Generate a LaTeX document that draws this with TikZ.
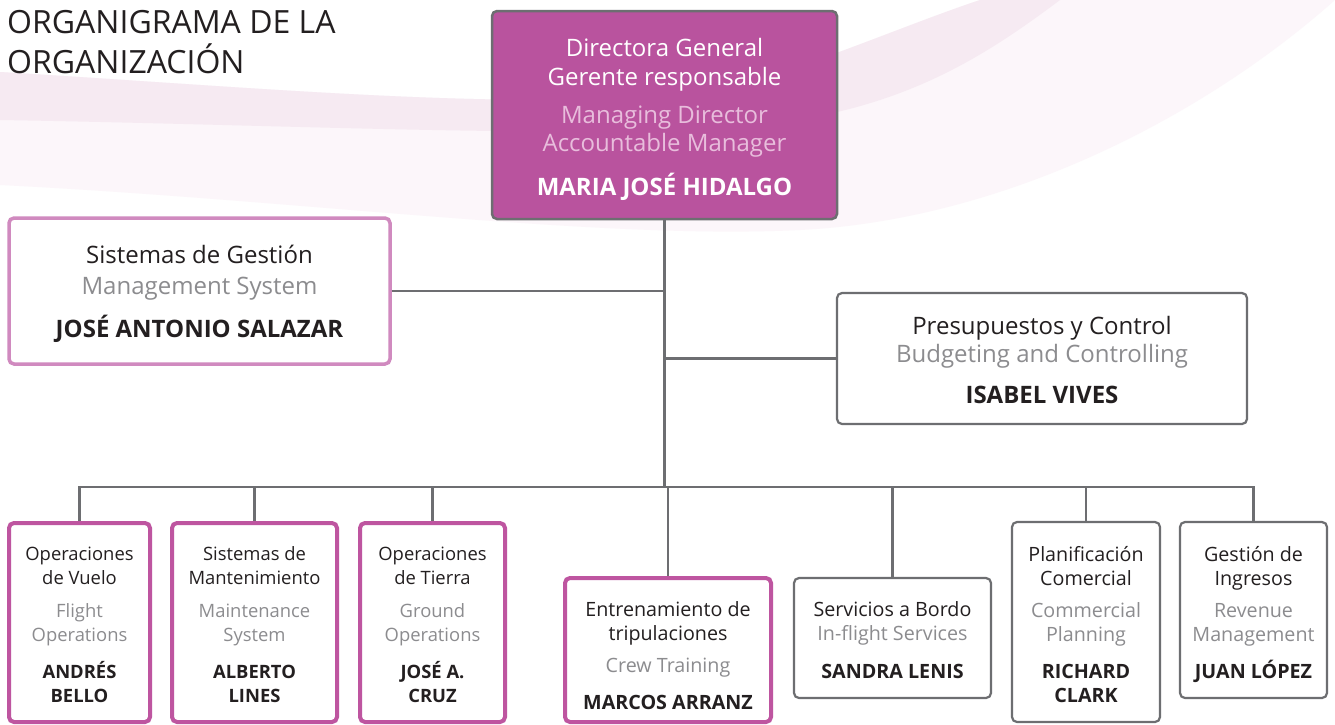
\documentclass[tikz,border=0pt]{standalone}
\usepackage{fontspec}
\setmainfont{Open Sans}
\definecolor{mag}{HTML}{B9539E}
\definecolor{grayb}{HTML}{6D6E71}
\definecolor{pinkb}{HTML}{BE55A0}
\definecolor{pinkl}{HTML}{D08ABF}
\definecolor{subm}{HTML}{E8BDDC}
\definecolor{subg}{HTML}{8C8C8F}
\definecolor{dark}{HTML}{231F20}
\definecolor{bgA}{HTML}{FCF6FA}
\definecolor{bgB}{HTML}{F6EAF2}
\tikzset{
  box/.style={rectangle, rounded corners=5pt, inner sep=0pt},
  pinkbox/.style={box, draw=pinkb, line width=4pt, fill=white},
  lpinkbox/.style={box, draw=pinkl, line width=3.5pt, fill=white},
  graybox/.style={box, draw=grayb, line width=2.2pt, fill=white},
  topbox/.style={box, draw=grayb, line width=2.5pt, fill=mag},
  txt/.style={align=center, inner sep=0pt, text=dark},
  conn/.style={draw=grayb, line width=2.5pt},
  bigA/.style={font=\fontsize{24}{28.5}\selectfont},
  bigB/.style={font=\fontsize{24}{31}\selectfont},
  smallA/.style={font=\fontsize{18.4}{24}\selectfont},
  smallB/.style={font=\fontsize{19.7}{24}\selectfont},
}
\newcommand{\sg}[1]{{\color{subg}#1}}
\newcommand{\sm}[1]{{\color{subm}#1}}
\newcommand{\nm}[1]{{\bfseries #1}}
\begin{document}
\begin{tikzpicture}[x=1pt,y=-1pt]
\useasboundingbox (0,0) rectangle (1335,724);
\clip (0,0) rectangle (1335,724);
\fill[white] (0,0) rectangle (1335,724);
% background swoosh
\fill[bgA] (0,72) .. controls (300,90) and (600,120) .. (760,80)
  .. controls (850,50) and (920,20) .. (980,0) -- (1335,0)
  .. controls (1200,120) and (1000,220) .. (800,230)
  .. controls (600,240) and (300,200) .. (0,185) -- cycle;
\fill[bgB] (0,72) .. controls (300,90) and (600,120) .. (760,80)
  .. controls (850,50) and (920,20) .. (980,0) -- (1060,0)
  .. controls (980,60) and (900,110) .. (760,125)
  .. controls (600,140) and (300,125) .. (0,120) -- cycle;
% title
\node[anchor=north west, inner sep=0pt, align=left, text=dark,
  font=\fontsize{32}{40}\selectfont] (title) at (7,10) {ORGANIGRAMA DE LA\\ORGANIZACIÓN};
% boxes
\node[topbox, minimum width=345, minimum height=208] (top) at (664.5,115) {};
\node[lpinkbox, minimum width=381, minimum height=146] (sis) at (199.5,291) {};
\node[graybox, minimum width=410, minimum height=131] (pres) at (1042,358.5) {};
\node[pinkbox, minimum width=141, minimum height=199] (b1) at (79.5,622.5) {};
\node[pinkbox, minimum width=165, minimum height=199] (b2) at (254.5,622.5) {};
\node[pinkbox, minimum width=145, minimum height=199] (b3) at (432.5,622.5) {};
\node[pinkbox, minimum width=206, minimum height=144] (b4) at (668,650) {};
\node[graybox, minimum width=197, minimum height=120] (b5) at (892.5,638) {};
\node[graybox, minimum width=148, minimum height=200] (b6) at (1086,622) {};
\node[graybox, minimum width=147, minimum height=176] (b7) at (1253.5,610) {};
% texts
\node[txt, bigA, text=white] (topT) at ([yshift=-4.5pt]top.center)
  {Directora General\\Gerente responsable\\[9.5pt]\sm{Managing Director}\\\sm{Accountable Manager}\\[15pt]\nm{MARIA JOSÉ HIDALGO}};
\node[txt, bigB] (sisT) at ([yshift=-3pt]sis.center)
  {Sistemas de Gestión\\\sg{Management System}\\[12pt]\nm{JOSÉ ANTONIO SALAZAR}};
\node[txt, bigA] (presT) at ([yshift=-1pt]pres.center)
  {Presupuestos y Control\\\sg{Budgeting and Controlling}\\[12pt]\nm{ISABEL VIVES}};
\node[txt, smallA] (b1T) at ([yshift=-2.5pt]b1.center)
  {Operaciones\\de Vuelo\\[9pt]\sg{Flight}\\\sg{Operations}\\[13pt]\nm{ANDRÉS}\\\nm{BELLO}};
\node[txt, smallA] (b2T) at ([yshift=-2.5pt]b2.center)
  {Sistemas de\\Mantenimiento\\[9pt]\sg{Maintenance}\\\sg{System}\\[13pt]\nm{ALBERTO}\\\nm{LINES}};
\node[txt, smallA] (b3T) at ([yshift=-2.5pt]b3.center)
  {Operaciones\\de Tierra\\[9pt]\sg{Ground}\\\sg{Operations}\\[13pt]\nm{JOSÉ A.}\\\nm{CRUZ}};
\node[txt, smallB] (b4T) at ([yshift=-6pt]b4.center)
  {Entrenamiento de\\tripulaciones\\[8pt]\sg{Crew Training}\\[13pt]\nm{MARCOS ARRANZ}};
\node[txt, smallB] (b5T) at ([yshift=-2.5pt]b5.center)
  {Servicios a Bordo\\\sg{In-flight Services}\\[14pt]\nm{SANDRA LENIS}};
\node[txt, smallB] (b6T) at ([yshift=-3pt]b6.center)
  {Planificación\\Comercial\\[8pt]\sg{Commercial}\\\sg{Planning}\\[13pt]\nm{RICHARD}\\\nm{CLARK}};
\node[txt, smallB] (b7T) at ([yshift=-4.5pt]b7.center)
  {Gestión de\\Ingresos\\[8pt]\sg{Revenue}\\\sg{Management}\\[13pt]\nm{JUAN LÓPEZ}};
% connectors
\coordinate (bus) at (664.5,487);
\draw[conn] (top.south) -- (top.south |- bus);
\draw[conn] (sis.east) -- (sis.east -| top.south);
\draw[conn] (pres.west) -- (pres.west -| top.south);
\draw[conn, line cap=rect] (b1.north |- bus) -- (b7.north |- bus);
\foreach \b in {b1,b2,b3,b4,b5,b6,b7}
  \draw[conn] (\b.north) -- (\b.north |- bus);
\end{tikzpicture}
\end{document}
